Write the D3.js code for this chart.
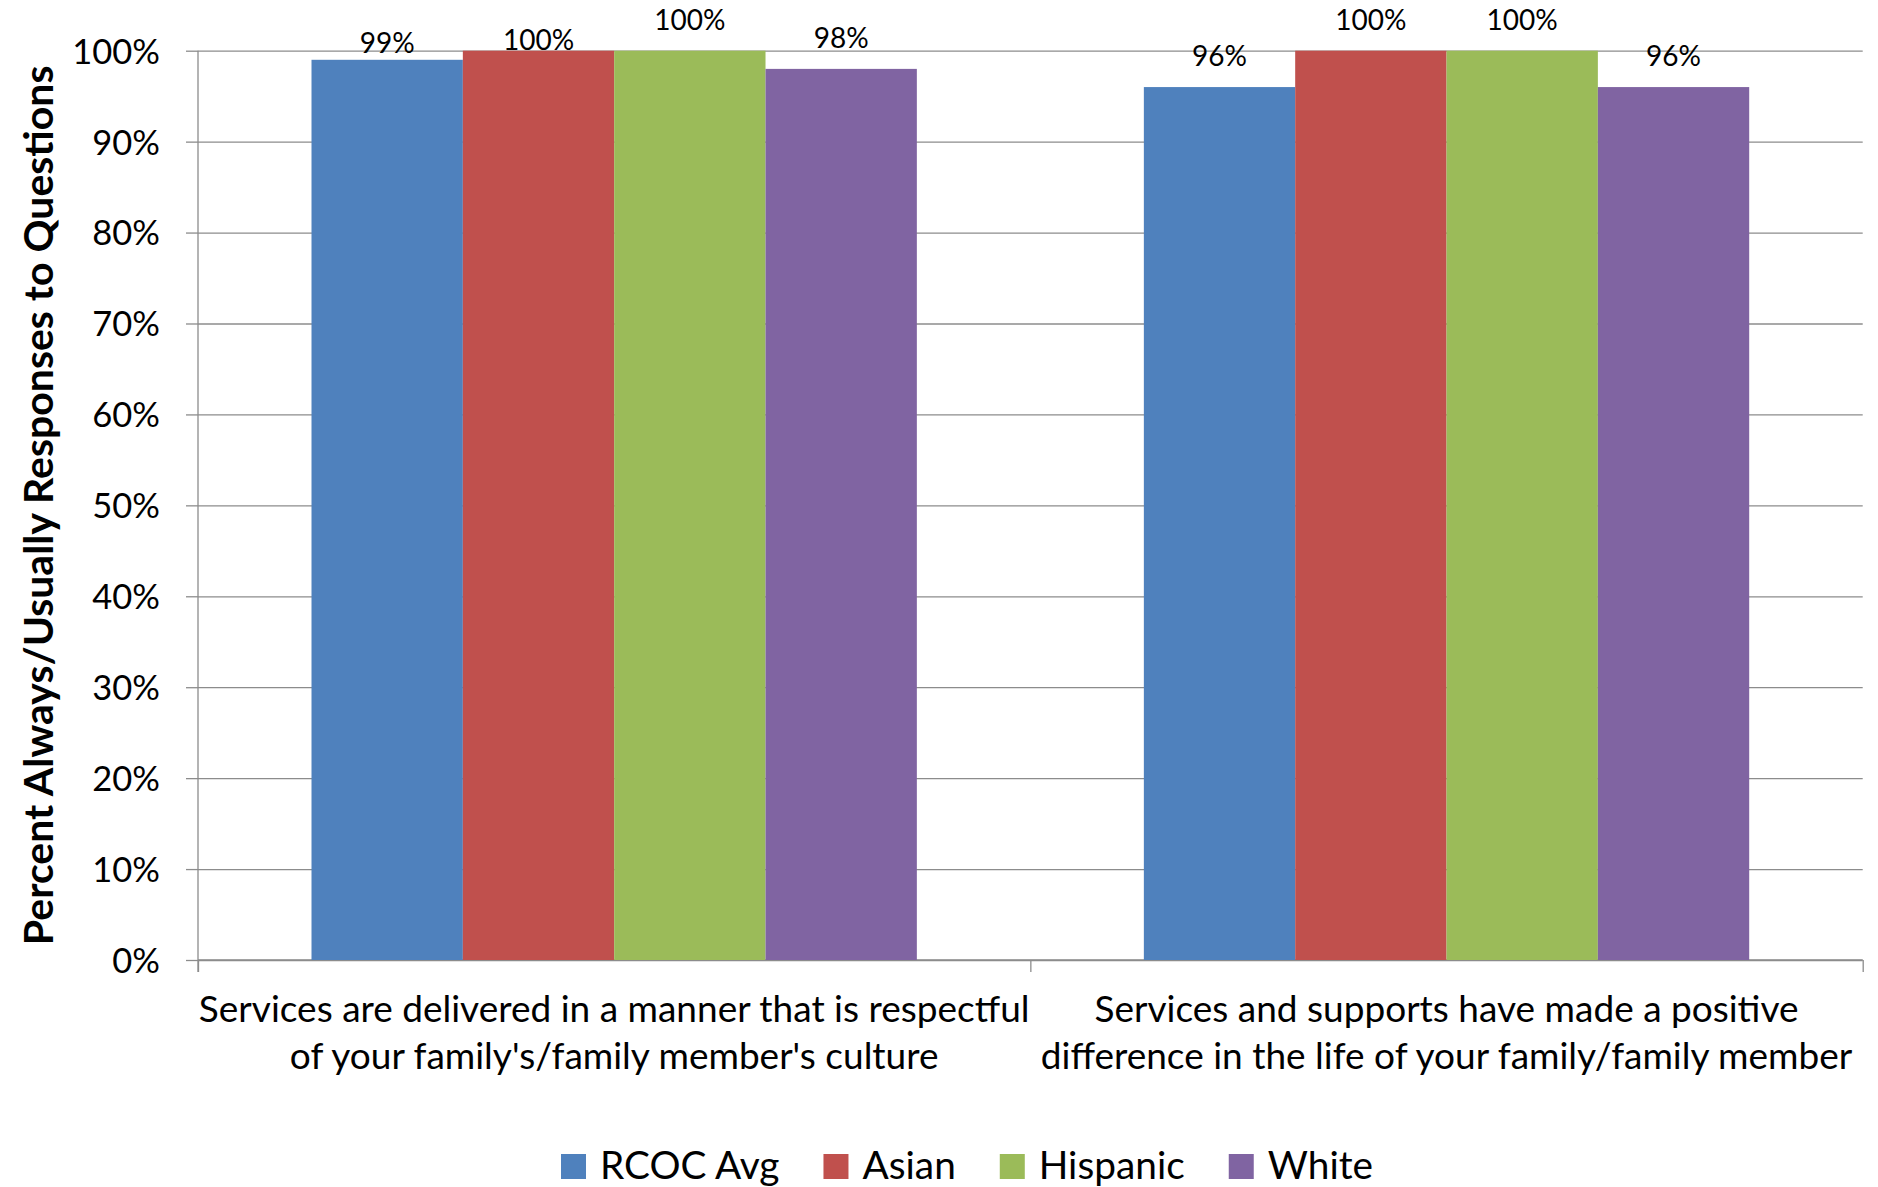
<!DOCTYPE html>
<html lang="en">
<head>
<meta charset="UTF-8">
<title>Percent Always/Usually Responses</title>
<script src="https://cdn.jsdelivr.net/npm/d3@7/dist/d3.min.js"></script>
<style>
   body { margin: 0; background: #fff; }
   #chart text { font-family: Lato, "Open Sans", sans-serif; fill: #000; }
   .domain { display: none; }
</style>
</head>
<body>
<div id="chart"></div>
<script>
   // data
   var categories = [
      ["Services are delivered in a manner that is respectful", "of your family's/family member's culture"],
      ["Services and supports have made a positive", "difference in the life of your family/family member"]
   ];
   var seriesNames = ["RCOC Avg", "Asian", "Hispanic", "White"];
   var rcocAvg  = [99, 96];
   var asian    = [100, 100];
   var hispanic = [100, 100];
   var white    = [98, 96];
   var yTicks   = [0, 10, 20, 30, 40, 50, 60, 70, 80, 90, 100];
   var colors   = ["#4F81BD", "#C0504D", "#9BBB59", "#8064A2"];

   var series = [rcocAvg, asian, hispanic, white];

   // a couple of labels were nudged down in the original to avoid overlap
   var labelNudge = { "0-0": 14, "0-1": 20 };

   var W = 1878, H = 1187;
   var mLeft = 198, mRight = 1862.7, mTop = 50.7, mBottom = 960;
   var w = mRight - mLeft, h = mBottom - mTop;

   var svg = d3.select("#chart").append("svg").attr("width", W).attr("height", H);

   var x0 = d3.scaleBand().domain(d3.range(categories.length)).range([0, w]).padding(0);
   // gap width 150% -> 0.75 band of padding on each side of the 4 bars
   var x1 = d3.scaleBand().domain(d3.range(seriesNames.length)).range([0, x0.bandwidth()])
      .paddingInner(0).paddingOuter(0.75);
   var y = d3.scaleLinear().domain([0, 100]).range([h, 0]);
   var xEdge = d3.scaleLinear().domain([0, categories.length]).range([0, w]);

   var g = svg.append("g").attr("transform", "translate(" + mLeft + "," + mTop + ")");

   // gridlines
   g.append("g")
      .attr("class", "grid")
      .call(d3.axisLeft(y).tickValues(yTicks).tickSize(-w).tickFormat(""))
      .selectAll("line").attr("stroke", "#8c8c8c").attr("stroke-width", 1.3);

   // y axis ticks and labels
   var yAxis = g.append("g")
      .call(d3.axisLeft(y).tickValues(yTicks).tickSizeInner(12).tickSizeOuter(0).tickPadding(26)
         .tickFormat(function(d) { return d + "%"; }));
   yAxis.selectAll("line").attr("stroke", "#8c8c8c").attr("stroke-width", 1.3);
   yAxis.selectAll("text").style("font-size", "34.5px").attr("dy", "0.36em");

   g.append("line")
      .attr("x1", 0).attr("x2", 0).attr("y1", 0).attr("y2", h + 12)
      .attr("stroke", "#8c8c8c").attr("stroke-width", 1.3);

   // x axis with ticks at category edges
   var xAxis = g.append("g")
      .attr("transform", "translate(0," + h + ")")
      .call(d3.axisBottom(xEdge).tickValues(d3.range(categories.length + 1)).tickSizeInner(12).tickSizeOuter(0).tickFormat(""));
   xAxis.selectAll("line").attr("stroke", "#8c8c8c").attr("stroke-width", 1.3);
   g.append("line")
      .attr("x1", 0).attr("x2", w).attr("y1", h).attr("y2", h)
      .attr("stroke", "#8c8c8c").attr("stroke-width", 1.3);

   // bars
   var groups = g.selectAll(".cat")
      .data(categories)
      .enter().append("g")
      .attr("class", "cat")
      .attr("transform", function(d, i) { return "translate(" + x0(i) + ",0)"; });

   function rows(d, i) {
      return series.map(function(s, j) { return { cat: i, s: j, v: s[i] }; });
   }

   groups.selectAll("rect")
      .data(rows)
      .enter().append("rect")
      .attr("x", function(d) { return x1(d.s); })
      .attr("y", function(d) { return y(d.v); })
      .attr("width", x1.bandwidth())
      .attr("height", function(d) { return h - y(d.v); })
      .attr("fill", function(d) { return colors[d.s]; });

   groups.selectAll(".label")
      .data(rows)
      .enter().append("text")
      .attr("class", "label")
      .attr("text-anchor", "middle")
      .attr("x", function(d) { return x1(d.s) + x1.bandwidth() / 2; })
      .attr("y", function(d) { return y(d.v) - 21 + (labelNudge[d.cat + "-" + d.s] || 0); })
      .style("font-size", "28px")
      .text(function(d) { return d.v + "%"; });

   // category labels
   groups.append("text")
      .attr("text-anchor", "middle")
      .style("font-size", "37px")
      .selectAll("tspan")
      .data(function(d) { return d; })
      .enter().append("tspan")
      .attr("x", x0.bandwidth() / 2)
      .attr("y", function(d, i) { return h + 62 + i * 47; })
      .text(function(d) { return d; });

   // y axis title
   svg.append("text")
      .attr("transform", "translate(53," + (mTop + h / 2) + ") rotate(-90)")
      .attr("text-anchor", "middle")
      .style("font-size", "41px")
      .style("font-weight", "bold")
      .text("Percent Always/Usually  Responses to Questions");

   // legend
   var legend = svg.append("g").attr("transform", "translate(561,1154)");
   var lx = 0;
   seriesNames.forEach(function(name, i) {
      var item = legend.append("g").attr("transform", "translate(" + lx + ",0)");
      item.append("rect").attr("width", 25).attr("height", 25).attr("fill", colors[i]);
      var t = item.append("text").attr("x", 39).attr("y", 25).style("font-size", "38.8px").text(name);
      lx += 39 + t.node().getComputedTextLength() + 44;
   });
</script>
</body>
</html>
